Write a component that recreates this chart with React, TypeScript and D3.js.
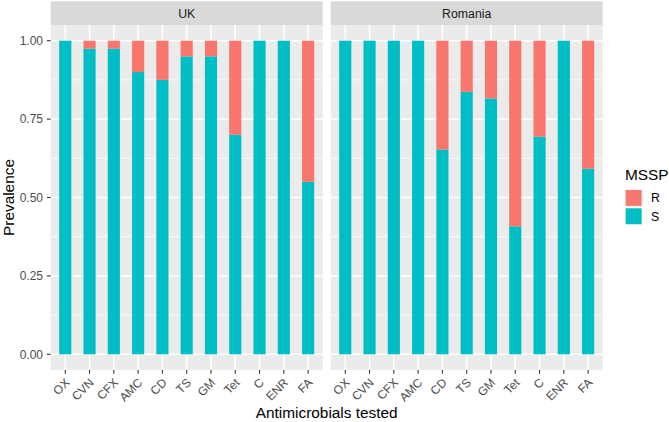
import React from "react";
import * as d3 from "d3";

const countries = ["UK", "Romania"];
const antimicrobials = ["OX", "CVN", "CFX", "AMC", "CD", "TS", "GM", "Tet", "C", "ENR", "FA"];
const ukS = [1, 0.975, 0.975, 0.9, 0.875, 0.95, 0.95, 0.7, 1, 1, 0.55];
const romaniaS = [1, 1, 1, 1, 0.653, 0.837, 0.816, 0.408, 0.694, 1, 0.592];
const yTicks = [0, 0.25, 0.5, 0.75, 1];
const yMinor = [0.125, 0.375, 0.625, 0.875];
const legendLevels = ["R", "S"];

const W = 669;
const H = 422;
const FONT = "'Liberation Sans', Arial, Helvetica, sans-serif";
const colR = "#F8766D";
const colS = "#00BFC4";

export default function App() {
  const panelTop = 25;
  const panelBottom = 370;
  const stripTop = 1.3;
  const panels = [
    { name: countries[0], x0: 50.7, x1: 322.7, s: ukS },
    { name: countries[1], x0: 330.7, x1: 602.7, s: romaniaS },
  ];
  const y = d3.scaleLinear().domain([-0.05, 1.05]).range([panelBottom, panelTop]);
  const colour = d3.scaleOrdinal<string, string>().domain(legendLevels).range([colR, colS]);

  return (
    <svg width={W} height={H} style={{ position: "absolute", left: 0, top: 0 }} fontFamily={FONT}>
      <rect width={W} height={H} fill="#fff" />
      {panels.map((p) => {
        const x = d3
          .scalePoint<string>()
          .domain(antimicrobials)
          .range([p.x0, p.x1])
          .padding(0.6);
        const bw = x.step() * 0.5;
        return (
          <g key={p.name}>
            <rect x={p.x0} y={stripTop} width={p.x1 - p.x0} height={panelTop - stripTop} fill="#D9D9D9" />
            <text x={(p.x0 + p.x1) / 2} y={(stripTop + panelTop) / 2} dy="0.36em" textAnchor="middle" fontSize={12.3} fill="#1A1A1A">
              {p.name}
            </text>
            <rect x={p.x0} y={panelTop} width={p.x1 - p.x0} height={panelBottom - panelTop} fill="#EBEBEB" />
            {yMinor.map((t) => (
              <line key={"m" + t} x1={p.x0} x2={p.x1} y1={y(t)} y2={y(t)} stroke="#fff" strokeWidth={0.75} />
            ))}
            {yTicks.map((t) => (
              <line key={"M" + t} x1={p.x0} x2={p.x1} y1={y(t)} y2={y(t)} stroke="#fff" strokeWidth={1.5} />
            ))}
            {antimicrobials.map((a) => (
              <line key={"v" + a} x1={x(a)} x2={x(a)} y1={panelTop} y2={panelBottom} stroke="#fff" strokeWidth={1.5} />
            ))}
            {antimicrobials.map((a, i) => {
              const sv = p.s[i];
              const cx = x(a) as number;
              return (
                <g key={"b" + a}>
                  <rect x={cx - bw / 2} y={y(sv)} width={bw} height={y(0) - y(sv)} fill={colour("S")} />
                  {sv < 1 && (
                    <rect x={cx - bw / 2} y={y(1)} width={bw} height={y(sv) - y(1)} fill={colour("R")} />
                  )}
                </g>
              );
            })}
            {antimicrobials.map((a) => {
              const cx = x(a) as number;
              return (
                <g key={"t" + a}>
                  <line x1={cx} x2={cx} y1={panelBottom} y2={panelBottom + 3.85} stroke="#333" strokeWidth={1.07} />
                  <text
                    transform={`translate(${cx - 1},${panelBottom + 7.3}) rotate(-45)`}
                    textAnchor="end"
                    dy="0.72em"
                    fontSize={12}
                    fill="#4D4D4D"
                  >
                    {a}
                  </text>
                </g>
              );
            })}
          </g>
        );
      })}
      {yTicks.map((t) => (
        <g key={"yt" + t}>
          <line x1={50.7 - 3.85} x2={50.7} y1={y(t)} y2={y(t)} stroke="#333" strokeWidth={1.07} />
          <text x={43} y={y(t)} dy="0.36em" textAnchor="end" fontSize={12} fill="#4D4D4D">
            {d3.format(".2f")(t)}
          </text>
        </g>
      ))}
      <text
        transform={`translate(13.5,${(panelTop + panelBottom) / 2}) rotate(-90)`}
        textAnchor="middle"
        fontSize={15.4}
        fill="#000"
      >
        Prevalence
      </text>
      <text x={(50.7 + 602.7) / 2} y={418} textAnchor="middle" fontSize={15.4} fill="#000">
        Antimicrobials tested
      </text>
      <text x={625} y={180} fontSize={15.4} fill="#000">
        MSSP
      </text>
      {legendLevels.map((l, i) => {
        const ky = 189.3 + i * 18.3;
        return (
          <g key={"lg" + l}>
            <rect x={625} y={ky} width={17.3} height={17.3} fill="#F2F2F2" />
            <rect x={625.7} y={ky + 0.7} width={15.9} height={15.9} fill={colour(l)} />
            <text x={651} y={ky + 8.65} dy="0.36em" fontSize={12.3} fill="#000">
              {l}
            </text>
          </g>
        );
      })}
    </svg>
  );
}
